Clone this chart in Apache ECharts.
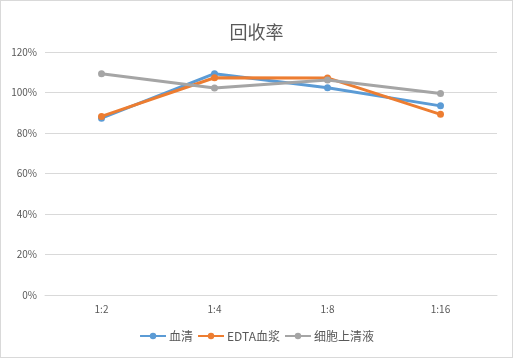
<!DOCTYPE html>
<html><head><meta charset="utf-8">
<script src="https://cdn.jsdelivr.net/npm/echarts@6/dist/echarts.min.js"></script>
<style>html,body{margin:0;padding:0;background:#fff}#c{width:513px;height:358px;box-sizing:border-box;border:1px solid #d9d9d9}</style>
</head><body><div id="c"></div>
<script>
var categories = ['1:2','1:4','1:8','1:16'];
var serum = [87.3, 109.3, 102.3, 93.4];
var edta = [88.2, 107.3, 107.2, 89.2];
var supernatant = [109.3, 102.2, 106.2, 99.5];
var yTicks = {min:0, max:120, interval:20};
var font = '"Noto Sans CJK SC", "Noto Sans", sans-serif';
var chart = echarts.init(document.getElementById('c'));
function s(name, data, color){
  return {name:name, type:'line', data:data, symbol:'circle', symbolSize:7,
    lineStyle:{width:3, color:color}, itemStyle:{color:color}, emphasis:{disabled:true}};
}
chart.setOption({
  animation:false,
  title:{text:'回收率', left:'center', top:17, textStyle:{fontFamily:font, fontSize:18, fontWeight:'normal', color:'#595959'}},
  grid:{left:44, right:15, top:51, bottom:62, containLabel:false},
  xAxis:{type:'category', data:categories, boundaryGap:true,
    axisLine:{lineStyle:{color:'#d9d9d9'}}, axisTick:{show:false},
    axisLabel:{color:'#595959', fontSize:10, fontFamily:font, margin:9}},
  yAxis:{type:'value', min:yTicks.min, max:yTicks.max, interval:yTicks.interval,
    axisLine:{show:false}, axisTick:{show:false},
    splitLine:{lineStyle:{color:'#d9d9d9'}},
    axisLabel:{formatter:'{value}%', color:'#595959', fontSize:10, fontFamily:font, margin:8}},
  legend:{bottom:10, left:'center', itemWidth:26, itemHeight:8, itemGap:4,
    textStyle:{color:'#595959', fontSize:12, fontFamily:font, padding:[0,0,0,-2]},
    data:['血清','EDTA血浆','细胞上清液']},
  series:[s('血清', serum, '#5B9BD5'), s('EDTA血浆', edta, '#ED7D31'), s('细胞上清液', supernatant, '#A5A5A5')]
});
</script></body></html>
